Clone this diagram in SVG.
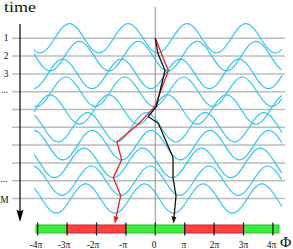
<svg xmlns="http://www.w3.org/2000/svg" xmlns:xlink="http://www.w3.org/1999/xlink" width="293" height="249" viewBox="0 0 293 249">
<style>
.grid{stroke:#bcbcbc;stroke-width:1.5;fill:none}
.wave{stroke:#2cc6f4;stroke-width:1.2;fill:none}
.lbl{font-family:"Liberation Serif","DejaVu Serif",serif;font-size:9.5px;fill:#111}
.tick{stroke:#111;stroke-width:1.2}
.green{fill:#3fea3f;stroke:#22c422;stroke-width:1}
.red{fill:#ff4242;stroke:#d81e1e;stroke-width:1}
</style>
<defs>
<path id="w" d="M-88.2,14.7 c5.32,0 9.906,-7.169 14.7,-14.7 s9.38,-14.7 14.7,-14.7 s9.906,7.169 14.7,14.7 s9.38,14.7 14.7,14.7 s9.906,-7.169 14.7,-14.7 s9.38,-14.7 14.7,-14.7 s9.906,7.169 14.7,14.7 s9.38,14.7 14.7,14.7 s9.906,-7.169 14.7,-14.7 s9.38,-14.7 14.7,-14.7 s9.906,7.169 14.7,14.7 s9.38,14.7 14.7,14.7 s9.906,-7.169 14.7,-14.7 s9.38,-14.7 14.7,-14.7 s9.906,7.169 14.7,14.7 s9.38,14.7 14.7,14.7 s9.906,-7.169 14.7,-14.7 s9.38,-14.7 14.7,-14.7 s9.906,7.169 14.7,14.7 s9.38,14.7 14.7,14.7 s9.906,-7.169 14.7,-14.7 s9.38,-14.7 14.7,-14.7 s9.906,7.169 14.7,14.7 s9.38,14.7 14.7,14.7 s9.906,-7.169 14.7,-14.7"/>
<clipPath id="wc" clipPathUnits="userSpaceOnUse"><rect x="34" y="0" width="248" height="249"/></clipPath>
<marker id="ar" markerUnits="userSpaceOnUse" markerWidth="8" markerHeight="8" refX="6" refY="0" viewBox="0 -4 8 8" orient="auto"><path d="M0,-2.6 L6.5,0 L0,2.6 z" fill="#ee1c1c"/></marker>
<marker id="ab" markerUnits="userSpaceOnUse" markerWidth="8" markerHeight="8" refX="6" refY="0" viewBox="0 -4 8 8" orient="auto"><path d="M0,-2.6 L6.5,0 L0,2.6 z" fill="#1a1212"/></marker>
</defs>
<rect width="293" height="249" fill="#fff"/>

<g id="gridlines">
<line class="grid" x1="12" y1="38.3" x2="285" y2="38.3"/>
<line class="grid" x1="12" y1="56.1" x2="285" y2="56.1"/>
<line class="grid" x1="12" y1="73.9" x2="285" y2="73.9"/>
<line class="grid" x1="12" y1="91.7" x2="285" y2="91.7"/>
<line class="grid" x1="12" y1="109.5" x2="285" y2="109.5"/>
<line class="grid" x1="12" y1="127.3" x2="285" y2="127.3"/>
<line class="grid" x1="12" y1="145.1" x2="285" y2="145.1"/>
<line class="grid" x1="12" y1="162.9" x2="285" y2="162.9"/>
<line class="grid" x1="12" y1="180.7" x2="285" y2="180.7"/>
<line class="grid" x1="12" y1="198.5" x2="285" y2="198.5"/>
<line x1="155.3" y1="7" x2="155.3" y2="225" stroke="#8c8c8c" stroke-width="1"/>
</g>

<g id="waves" clip-path="url(#wc)">
<g id="row1"><use xlink:href="#w" class="wave" transform="translate(69.5,38.3)"/></g>
<g id="row2"><use xlink:href="#w" class="wave" transform="translate(79.5,56.1)"/></g>
<g id="row3"><use xlink:href="#w" class="wave" transform="translate(62.6,73.9)"/></g>
<g id="row4"><use xlink:href="#w" class="wave" transform="translate(66,91.7)"/></g>
<g id="row5"><use xlink:href="#w" class="wave" transform="translate(50.1,109.5)"/></g>
<g id="row6"><use xlink:href="#w" class="wave" transform="translate(28.7,127.3)"/></g>
<g id="row7"><use xlink:href="#w" class="wave" transform="translate(33.5,145.1)"/></g>
<g id="row8"><use xlink:href="#w" class="wave" transform="translate(25.1,162.9)"/></g>
<g id="row9"><use xlink:href="#w" class="wave" transform="translate(32.5,180.7)"/></g>
<g id="row10"><use xlink:href="#w" class="wave" transform="translate(26.8,198.5)"/></g>
</g>

<g id="time-axis">
<line x1="20" y1="24" x2="20" y2="215" stroke="#000" stroke-width="1.2"/>
<path d="M20,222 L16.4,209.5 Q20,212.5 23.6,209.5 Z" fill="#000"/>
<text class="lbl" x="4" y="11.7" style="font-size:15px" textLength="32" lengthAdjust="spacingAndGlyphs">time</text>
<text class="lbl" x="6" y="41.2" text-anchor="middle">1</text>
<text class="lbl" x="6" y="59" text-anchor="middle">2</text>
<text class="lbl" x="6" y="76.8" text-anchor="middle">3</text>
<text class="lbl" x="4.5" y="92.6" text-anchor="middle">...</text>
<text class="lbl" x="4" y="181.6" text-anchor="middle">...</text>
<text class="lbl" x="4.5" y="202.6" text-anchor="middle">M</text>
</g>

<g id="phase-axis">
<rect class="green" x="36" y="225" width="31.1" height="8"/>
<rect class="red" x="67.1" y="225" width="58.8" height="8"/>
<rect class="green" x="125.9" y="225" width="58.8" height="8"/>
<rect class="red" x="184.7" y="225" width="58.8" height="8"/>
<rect class="green" x="243.5" y="225" width="35.5" height="8"/>
<line class="tick" x1="37.7" y1="222.5" x2="37.7" y2="235.5"/>
<line class="tick" x1="67.1" y1="222.5" x2="67.1" y2="235.5"/>
<line class="tick" x1="96.5" y1="222.5" x2="96.5" y2="235.5"/>
<line class="tick" x1="125.9" y1="222.5" x2="125.9" y2="235.5"/>
<line class="tick" x1="155.3" y1="222.5" x2="155.3" y2="235.5"/>
<line class="tick" x1="184.7" y1="222.5" x2="184.7" y2="235.5"/>
<line class="tick" x1="214.1" y1="222.5" x2="214.1" y2="235.5"/>
<line class="tick" x1="243.5" y1="222.5" x2="243.5" y2="235.5"/>
<line class="tick" x1="272.9" y1="222.5" x2="272.9" y2="235.5"/>
<text class="lbl" x="36" y="247.5" text-anchor="middle">-4π</text>
<text class="lbl" x="64" y="247.5" text-anchor="middle">-3π</text>
<text class="lbl" x="93" y="247.5" text-anchor="middle">-2π</text>
<text class="lbl" x="123" y="247.5" text-anchor="middle">-π</text>
<text class="lbl" x="154" y="247.5" text-anchor="middle">0</text>
<text class="lbl" x="184" y="247.5" text-anchor="middle">π</text>
<text class="lbl" x="214.5" y="247.5" text-anchor="middle">2π</text>
<text class="lbl" x="243.5" y="247.5" text-anchor="middle">3π</text>
<text class="lbl" x="271.5" y="247.5" text-anchor="middle">4π</text>
<text class="lbl" x="280" y="247" style="font-size:15.5px">Φ</text>
</g>

<g id="connectors" fill="none" stroke-width="1.3" stroke-linejoin="round">
<path id="red-path" stroke="#ee1c1c" marker-end="url(#ar)" d="M155.3,38.3 L168.3,70.8 L161.6,88.6 L155,106.4 L138.3,124.2 L116.9,142 L121.7,159.8 L113.3,177.6 L120.7,195.4 L115,222.5"/>
<path id="black-path" stroke="#1a1212" marker-end="url(#ab)" d="M155.3,38.3 L157.8,53 L165,70.5 L160.5,89 L156.5,106.4 L148.3,116.7 L158.3,123.3 L173,157.5 L173,177.6 L176,196 L173.5,222.5"/>
</g>
</svg>
